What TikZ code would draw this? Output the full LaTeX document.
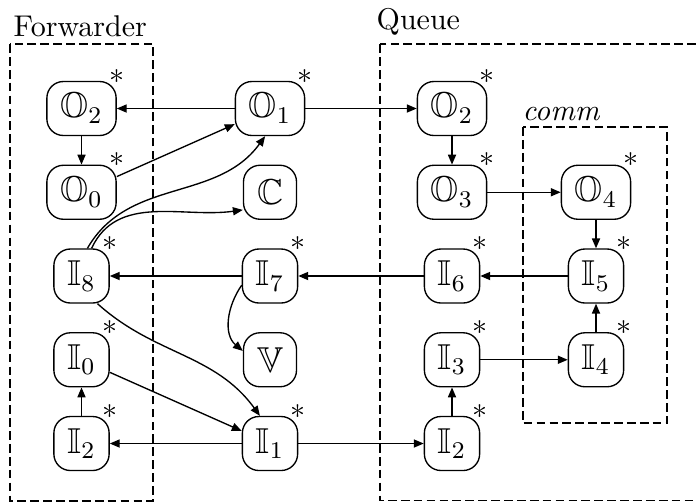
\documentclass[tikz,border=0pt]{standalone}
\usepackage{amssymb}
\usetikzlibrary{arrows.meta}
\begin{document}
\begin{tikzpicture}[x=1pt,y=-1pt, line width=0.45pt,
  st/.style={draw, rounded corners=5.5pt, minimum height=18pt, minimum width=17.3pt, inner xsep=4.5pt, inner ysep=2pt, font=\large},
  ar/.style={-{Triangle[length=3.3pt,width=2.7pt]}},
  cl/.style={dash pattern=on 2.9pt off 1.4pt},
  sr/.style={inner sep=0pt, yshift=1.6pt},
  lbl/.style={inner sep=0pt}]
\useasboundingbox (0,0) rectangle (232,167.333);
\clip (0,0) rectangle (232,167.333);
% clusters
\draw[cl] (3.333,14.667) rectangle (51,167);
\draw[cl] (126.667,14.667) rectangle (240,166.833);
\draw[cl] (174.333,42.333) rectangle (222.333,141);
\node[lbl, anchor=base west] (lf) at (4.333,12.167) {Forwarder};
\node[lbl, anchor=base west] (lq) at (125.333,9.833) {Queue};
\node[lbl, anchor=base west] (lc) at (174,40) {\textit{comm}};
% nodes
\node[st] (fO2) at (27.167,36.167) {$\mathbb{O}_2$};
\node[st] (O0) at (27.167,64.083) {$\mathbb{O}_0$};
\node[st] (I8) at (27.167,92) {$\mathbb{I}_8$};
\node[st] (I0) at (27.167,119.917) {$\mathbb{I}_0$};
\node[st] (fI2) at (27.167,147.833) {$\mathbb{I}_2$};
\node[st] (O1) at (90,36.167) {$\mathbb{O}_1$};
\node[st] (C) at (90,64.083) {$\mathbb{C}$};
\node[st] (I7) at (90,92) {$\mathbb{I}_7$};
\node[st] (V) at (90,119.917) {$\mathbb{V}$};
\node[st] (I1) at (90,147.833) {$\mathbb{I}_1$};
\node[st] (qO2) at (150.667,36.167) {$\mathbb{O}_2$};
\node[st] (O3) at (150.667,64.083) {$\mathbb{O}_3$};
\node[st] (I6) at (150.667,92) {$\mathbb{I}_6$};
\node[st] (I3) at (150.667,119.917) {$\mathbb{I}_3$};
\node[st] (qI2) at (150.667,147.833) {$\mathbb{I}_2$};
\node[st] (O4) at (198.667,64.083) {$\mathbb{O}_4$};
\node[st] (I5) at (198.667,92) {$\mathbb{I}_5$};
\node[st] (I4) at (198.667,119.917) {$\mathbb{I}_4$};
% stars
\foreach \n in {fO2,O0,I8,I0,fI2,O1,I7,I1,qO2,O3,I6,I3,qI2,O4,I5,I4}
  \node[sr] (s\n) at (\n.north east) {$\ast$};
% edges
\draw[ar] (O1) -- (fO2);
\draw[ar] (O1) -- (qO2);
\draw[ar] (fO2) -- (O0);
\draw[ar] (O0) -- (O1);
\draw[ar] (I8.78) to[out=60,in=-126] (O1.-100);
\draw[ar] (I8.70) to[out=65,in=188] (C.213);
\draw[ar] (I7) -- (I8);
\draw[ar] (I6) -- (I7);
\draw[ar] (I5) -- (I6);
\draw[ar] (qO2) -- (O3);
\draw[ar] (O3) -- (O4);
\draw[ar] (O4) -- (I5);
\draw[ar] (I4) -- (I5);
\draw[ar] (I3) -- (I4);
\draw[ar] (qI2) -- (I3);
\draw[ar] (I1) -- (qI2);
\draw[ar] (I1) -- (fI2);
\draw[ar] (fI2) -- (I0);
\draw[ar] (I0) -- (I1);
\draw[ar] (I8.-60) to[out=-42,in=126] (I1.110);
\draw[ar] (I7.-162) to[out=-125,in=140] (V.162);
\end{tikzpicture}
\end{document}
